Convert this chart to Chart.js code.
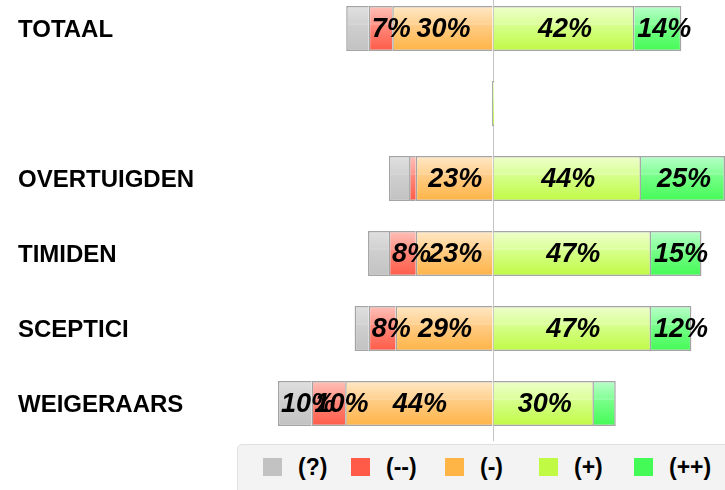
<!DOCTYPE html>
<html>
<head>
<meta charset="utf-8">
<title>Houding per groep</title>
<script src="https://cdn.jsdelivr.net/npm/chart.js@4.4.0/dist/chart.umd.min.js"></script>
<style>
  html, body { margin: 0; padding: 0; background: #fff; }
  body { width: 725px; height: 490px; overflow: hidden; position: relative;
         font-family: Arial, "Liberation Sans", sans-serif; }
  #wrap { position: absolute; left: 0; top: -9px; width: 725px; height: 450px; }
  #legend { position: absolute; left: 237px; top: 444px; width: 540px; height: 70px;
            background: #f3f3f3; border: 1px solid #e0e0e0; border-radius: 5px; }
  .item { position: absolute; top: 13px; height: 18px; display: flex; align-items: center;
          font-weight: bold; font-size: 23px; color: #000; white-space: nowrap; }
  .item .box { display: inline-block; width: 19px; height: 18px; margin-right: 16px; }
</style>
</head>
<body>
<div id="wrap"><canvas id="chart" width="725" height="450"></canvas></div>
<div id="legend"></div>
<script>
// percentages per group, left side is drawn as negative values
const categories = ['TOTAAL', '', 'OVERTUIGDEN', 'TIMIDEN', 'SCEPTICI', 'WEIGERAARS'];
const unknown = [6.7, 0, 6, 6.2, 4.2, 10];          // (?)
const stronglyAgainst = [7, 0, 2, 8, 8, 10];        // (--)
const against = [30, 0, 23, 23, 29, 44];            // (-)
const inFavour = [42, 0, 44, 47, 47, 30];           // (+)
const stronglyInFavour = [14, 0, 25, 15, 12, 6.5];  // (++)

// [top, mid, highlight, mid, bottom] for the glossy bar fill, last one is the legend swatch
const gray  = ['#e0e0e0', '#d2d2d2', '#dadada', '#cfcfcf', '#c2c2c2'];
const red   = ['#ffc0b8', '#ff988c', '#ffaaa0', '#ff8a7c', '#ff5b48'];
const orange= ['#ffe8c6', '#ffd294', '#ffdaa6', '#ffcc86', '#ffb446'];
const lime  = ['#eeffcc', '#dcff9c', '#e6ffb6', '#d6ff8c', '#c0fa44'];
const green = ['#b8ffca', '#86ff98', '#a0ffb0', '#78ff8a', '#44fa56'];

const BAR = 45;

function gloss(stops) {
  return function(c) {
    const chart = c.chart;
    if (!chart.chartArea || c.dataIndex === undefined) return stops[4];
    const yc = chart.scales.y.getPixelForValue(c.dataIndex);
    const g = chart.ctx.createLinearGradient(0, yc - BAR / 2, 0, yc + BAR / 2);
    g.addColorStop(0, stops[0]);
    g.addColorStop(0.38, stops[1]);
    g.addColorStop(0.4, stops[2]);
    g.addColorStop(0.43, stops[3]);
    g.addColorStop(1, stops[4]);
    return g;
  };
}

function negate(arr) {
  return arr.map(v => -v);
}

function makeSet(label, data, stops, extra) {
  return Object.assign({
    label: label,
    data: data,
    backgroundColor: gloss(stops),
    borderColor: '#a4a4a4',
    borderWidth: 1.5,
    borderSkipped: 'start',
    barPercentage: 0.6,
    categoryPercentage: 1
  }, extra || {});
}

// percentage text on each segment, pushed right when it doesn't fit
const valueLabels = {
  id: 'valueLabels',
  afterDatasetsDraw(chart) {
    const ctx = chart.ctx;
    ctx.save();
    ctx.font = 'italic bold 27px Arial, "Liberation Sans", sans-serif';
    ctx.fillStyle = '#000';
    ctx.textBaseline = 'middle';
    ctx.textAlign = 'left';
    chart.data.datasets.forEach((ds, i) => {
      chart.getDatasetMeta(i).data.forEach((bar, j) => {
        const v = Math.abs(ds.data[j]);
        if (v < 7) return;
        const text = v + '%';
        const left = Math.min(bar.x, bar.base);
        const right = Math.max(bar.x, bar.base);
        const w = ctx.measureText(text).width;
        const x = Math.max((left + right - w) / 2 + 1, left + 3);
        ctx.fillText(text, x, bar.y + 1);
      });
    });
    ctx.restore();
  }
};

const datasets = [
  makeSet('(-)', negate(against), orange),
  makeSet('(--)', negate(stronglyAgainst), red),
  makeSet('(?)', negate(unknown), gray),
  makeSet('(+)', inFavour, lime, { minBarLength: 2 }),
  makeSet('(++)', stronglyInFavour, green)
];

new Chart(document.getElementById('chart').getContext('2d'), {
  type: 'bar',
  data: { labels: categories, datasets: datasets },
  options: {
    indexAxis: 'y',
    responsive: false,
    animation: false,
    layout: { padding: { left: 18, right: 0, top: 0, bottom: 0 } },
    scales: {
      x: {
        stacked: true,
        min: -75,
        max: 69,
        ticks: { display: false, stepSize: 25 },
        border: { display: false },
        grid: {
          drawTicks: false,
          lineWidth: 1,
          color: c => (c.tick && c.tick.value === 0) ? '#c4c4c4' : 'rgba(0,0,0,0)'
        }
      },
      y: {
        stacked: true,
        grid: { display: false },
        border: { display: false },
        ticks: {
          crossAlign: 'far',
          padding: 0,
          labelOffset: 2,
          color: '#000',
          font: { family: 'Arial, "Liberation Sans", sans-serif', size: 24, weight: 'bold' }
        },
        afterFit: s => {
          s.width = 223;
          s.paddingTop = 0;
          s.paddingBottom = 0;
        }
      }
    },
    plugins: {
      legend: { display: false },
      tooltip: { enabled: false }
    }
  },
  plugins: [valueLabels]
});

// legend below the chart, in the order (?) (--) (-) (+) (++)
const legendSets = [
  ['(?)', gray], ['(--)', red], ['(-)', orange], ['(+)', lime], ['(++)', green]
];
const legendX = [25, 113, 207, 301, 396];
const legend = document.getElementById('legend');
legendSets.forEach((s, i) => {
  let item = document.createElement('div');
  item.className = 'item';
  item.style.left = legendX[i] + 'px';
  let box = document.createElement('span');
  box.className = 'box';
  box.style.background = s[1][4];
  item.appendChild(box);
  item.appendChild(document.createTextNode(s[0]));
  legend.appendChild(item);
});
</script>
</body>
</html>
